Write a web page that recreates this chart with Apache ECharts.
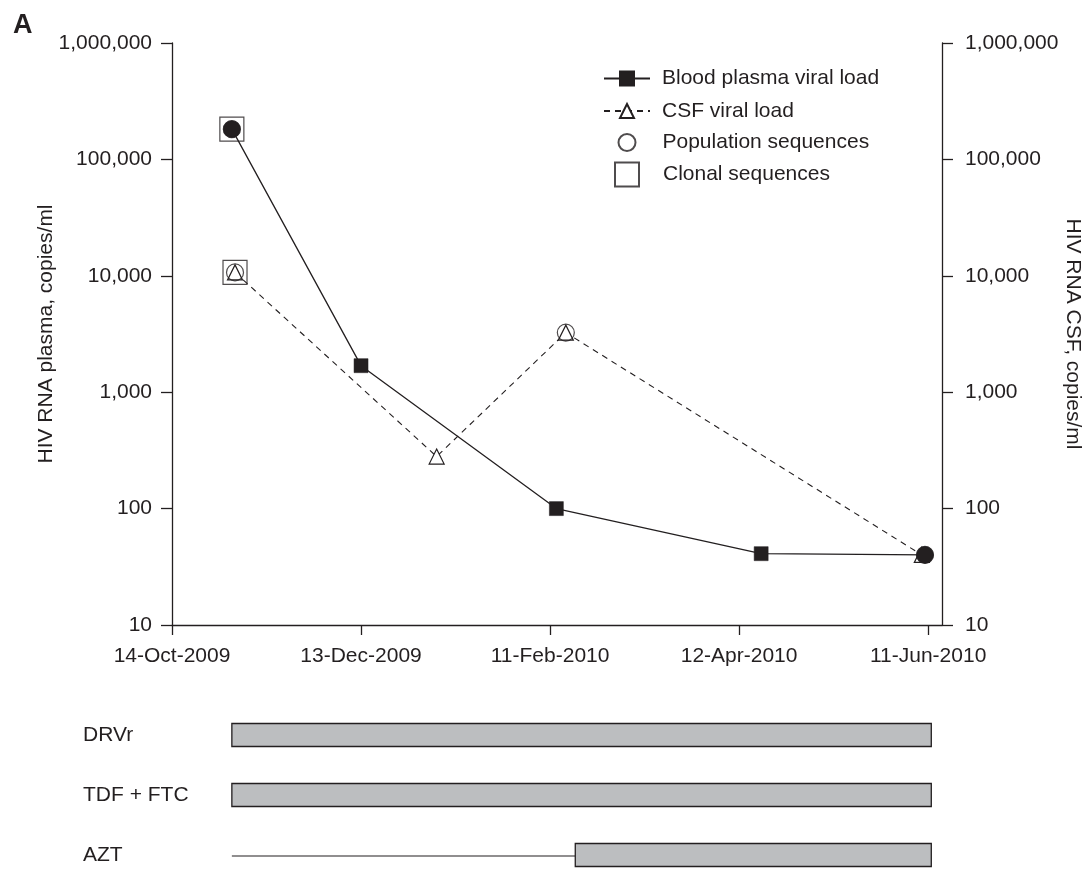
<!DOCTYPE html>
<html>
<head>
<meta charset="utf-8">
<script src="https://cdn.jsdelivr.net/npm/echarts@6/dist/echarts.min.js"></script>
<style>
html,body{margin:0;padding:0;background:#fff;}
#chart{width:1085px;height:869px;}
</style>
</head>
<body>
<div id="chart"></div>
<script>
// ---------- data ----------
const axisStartDate = '2009-10-14';
const xTickDates = ['2009-10-14', '2009-12-13', '2010-02-11', '2010-04-12', '2010-06-11'];
const yTickValues = [10, 100, 1000, 10000, 100000, 1000000];

const plasmaDates = ['2009-11-02', '2009-12-13', '2010-02-13', '2010-04-19', '2010-06-10'];
const plasmaValues = [182000, 1690, 100, 41, 40];

const csfDates = ['2009-11-03', '2010-01-06', '2010-02-16', '2010-06-09'];
const csfValues = [10700, 280, 3250, 40];

const popSeqPlasmaDates = ['2009-11-02', '2010-06-10'];
const popSeqCsfDates = ['2009-11-03', '2010-02-16'];
const clonalPlasmaDates = ['2009-11-02'];
const clonalCsfDates = ['2009-11-03'];

const treatments = ['DRVr', 'TDF + FTC', 'AZT'];
const treatStart = ['2009-11-02', '2009-11-02', '2010-02-19'];
const treatEnd = ['2010-06-12', '2010-06-12', '2010-06-12'];
const offDrugRows = ['AZT'];
const offDrugStart = ['2009-11-02'];
const offDrugEnd = ['2010-02-19'];

const seriesNames = ['Blood plasma viral load', 'CSF viral load', 'Population sequences', 'Clonal sequences'];
const leftAxisName = 'HIV RNA plasma, copies/ml';
const rightAxisName = 'HIV RNA CSF, copies/ml';
const panelLabel = 'A';

// ---------- helpers ----------
const DAY = 86400000;
function toUTC(s) { const p = s.split('-').map(Number); return Date.UTC(p[0], p[1] - 1, p[2]); }
const t0 = toUTC(axisStartDate);
function day(s) { return (toUTC(s) - t0) / DAY; }
const MON = ['Jan','Feb','Mar','Apr','May','Jun','Jul','Aug','Sep','Oct','Nov','Dec'];
function fmtDay(v) {
  const d = new Date(t0 + Math.round(v) * DAY);
  return d.getUTCDate() + '-' + MON[d.getUTCMonth()] + '-' + d.getUTCFullYear();
}
const xTicks = xTickDates.map(day);
const xMax = 244.4;

const INK = '#231f20';
const FONT = "'Liberation Sans', Arial, Helvetica, sans-serif";
const FS = 21;

function valAt(dates, values, d) { return values[dates.indexOf(d)]; }

const plasmaData = plasmaDates.map((d, i) => {
  const onPop = popSeqPlasmaDates.includes(d);
  return { value: [day(d), plasmaValues[i]], symbol: onPop ? 'circle' : 'rect', symbolSize: onPop ? 17 : 14 };
});
const csfData = csfDates.map((d, i) => [day(d), csfValues[i]]);
const popData = popSeqPlasmaDates.map(d => [day(d), valAt(plasmaDates, plasmaValues, d)])
  .concat(popSeqCsfDates.map(d => [day(d), valAt(csfDates, csfValues, d)]));
const clonalData = clonalPlasmaDates.map(d => [day(d), valAt(plasmaDates, plasmaValues, d)])
  .concat(clonalCsfDates.map(d => [day(d), valAt(csfDates, csfValues, d)]));

const treatData = treatments.map((t, i) => [i, day(treatStart[i]), day(treatEnd[i])]);
const offData = offDrugRows.map((t, i) => [treatments.indexOf(t), day(offDrugStart[i]), day(offDrugEnd[i])]);

function fmtNum(v) { return Math.round(v).toLocaleString('en-US'); }

const yAxisCommon = {
  type: 'log', logBase: 10, min: 10, max: 1000000, gridIndex: 0,
  axisLine: { show: true, lineStyle: { color: INK, width: 1.3 } },
  axisTick: { show: true, length: 11, lineStyle: { color: INK, width: 1.3 } },
  minorTick: { show: false }, splitLine: { show: false },
  axisLabel: { color: INK, fontSize: FS, fontFamily: FONT, formatter: fmtNum },
  nameLocation: 'middle',
  nameMoveOverlap: false,
  nameTextStyle: { color: INK, fontSize: FS, fontFamily: FONT }
};

const legendText = (pad) => ({ fontSize: FS, color: INK, fontFamily: FONT, padding: [0, 0, 0, pad] });

const chart = echarts.init(document.getElementById('chart'), null, { renderer: 'canvas' });
chart.setOption({
  animation: false,
  backgroundColor: '#fff',
  textStyle: { fontFamily: FONT },
  title: { text: panelLabel, left: 13, top: 12, padding: 0, textStyle: { fontSize: 27, fontWeight: 'bold', color: INK, fontFamily: FONT } },
  grid: [
    { left: 172, right: 143, top: 43, bottom: 244, containLabel: false, outerBoundsMode: 'none' },
    { left: 172, right: 143, top: 705, height: 180, containLabel: false, outerBoundsMode: 'none' }
  ],
  legend: [
    { data: [seriesNames[0]], left: 603, top: 68, padding: 0, orient: 'vertical', itemWidth: 46, itemHeight: 17.5, selectedMode: false,
      textStyle: legendText(7) },
    { data: [seriesNames[1]], left: 603, top: 100.5, padding: 0, orient: 'vertical', itemWidth: 46, itemHeight: 17.5, selectedMode: false,
      textStyle: legendText(7) },
    { data: [seriesNames[2]], left: 617.5, top: 132, padding: 0, orient: 'vertical', itemWidth: 17, itemHeight: 17, selectedMode: false,
      textStyle: legendText(22) },
    { data: [seriesNames[3]], left: 614, top: 161.5, padding: 0, orient: 'vertical', itemWidth: 24, itemHeight: 24, selectedMode: false,
      textStyle: legendText(19) }
  ],
  xAxis: [
    {
      type: 'value', gridIndex: 0, min: 0, max: xMax,
      axisLine: { show: true, lineStyle: { color: INK, width: 1.3 } },
      axisTick: { show: true, length: 10, customValues: xTicks, lineStyle: { color: INK, width: 1.3 } },
      axisLabel: { customValues: xTicks, formatter: fmtDay, color: INK, fontSize: FS, fontFamily: FONT, margin: 21 },
      splitLine: { show: false }
    },
    {
      type: 'value', gridIndex: 1, min: 0, max: xMax, show: false
    }
  ],
  yAxis: [
    Object.assign({}, yAxisCommon, { position: 'left', name: leftAxisName, nameRotate: 90, nameGap: 115,
      axisLabel: Object.assign({}, yAxisCommon.axisLabel, { margin: 20 }) }),
    Object.assign({}, yAxisCommon, { position: 'right', name: rightAxisName, nameRotate: -90, nameGap: 120,
      axisLabel: Object.assign({}, yAxisCommon.axisLabel, { margin: 23 }) }),
    {
      type: 'category', gridIndex: 1, data: treatments, inverse: true,
      axisLine: { show: false }, axisTick: { show: false }, splitLine: { show: false },
      axisLabel: { align: 'left', margin: 89, color: INK, fontSize: FS, fontFamily: FONT }
    }
  ],
  series: [
    {
      name: seriesNames[1], type: 'line', xAxisIndex: 0, yAxisIndex: 0, data: csfData,
      symbol: 'triangle', symbolSize: 15, z: 3,
      lineStyle: { color: INK, width: 1.1, type: [6, 5] },
      itemStyle: { color: '#fff', borderColor: INK, borderWidth: 1.2 },
      emphasis: { disabled: true }
    },
    {
      name: seriesNames[0], type: 'line', xAxisIndex: 0, yAxisIndex: 0, data: plasmaData,
      symbol: 'rect', symbolSize: 14, z: 4,
      lineStyle: { color: INK, width: 1.3 },
      itemStyle: { color: INK, borderColor: INK, borderWidth: 0.5 },
      emphasis: { disabled: true }
    },
    {
      name: seriesNames[2], type: 'scatter', xAxisIndex: 0, yAxisIndex: 0, data: popData,
      symbol: 'circle', symbolSize: 17, z: 5,
      itemStyle: { color: 'rgba(255,255,255,0)', borderColor: INK, borderWidth: 1.2 },
      emphasis: { disabled: true }
    },
    {
      name: seriesNames[3], type: 'scatter', xAxisIndex: 0, yAxisIndex: 0, data: clonalData,
      symbol: 'rect', symbolSize: 24, z: 6,
      itemStyle: { color: 'rgba(255,255,255,0)', borderColor: INK, borderWidth: 1.2 },
      emphasis: { disabled: true }
    },
    {
      type: 'custom', xAxisIndex: 1, yAxisIndex: 2, data: offData,
      encode: { x: [1, 2], y: 0 },
      renderItem: function (params, api) {
        const p0 = api.coord([api.value(1), api.value(0)]);
        const p1 = api.coord([api.value(2), api.value(0)]);
        return { type: 'line', shape: { x1: p0[0], y1: p0[1] + 1, x2: p1[0], y2: p1[1] + 1 },
          style: { stroke: INK, lineWidth: 1.2 } };
      }
    },
    {
      type: 'custom', xAxisIndex: 1, yAxisIndex: 2, data: treatData,
      encode: { x: [1, 2], y: 0 },
      renderItem: function (params, api) {
        const p0 = api.coord([api.value(1), api.value(0)]);
        const p1 = api.coord([api.value(2), api.value(0)]);
        const h = 23;
        return { type: 'rect', shape: { x: p0[0], y: p0[1] - h / 2, width: p1[0] - p0[0], height: h },
          style: { fill: '#bcbec0', stroke: INK, lineWidth: 1.3 } };
      }
    }
  ]
});
</script>
</body>
</html>
